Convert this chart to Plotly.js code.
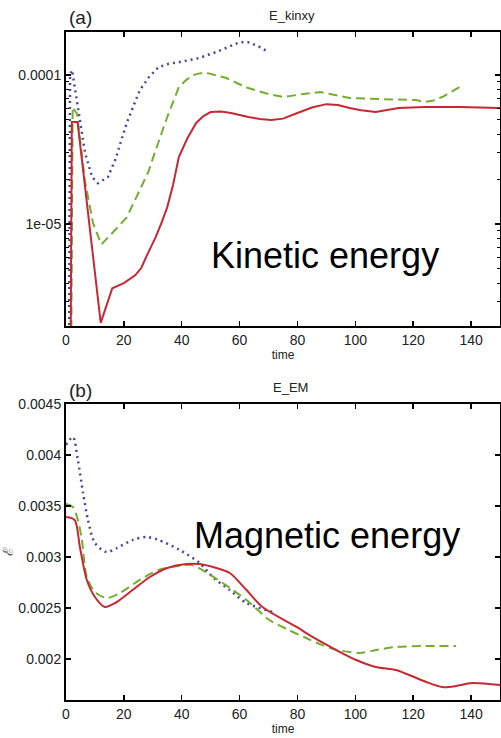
<!DOCTYPE html>
<html>
<head>
<meta charset="utf-8">
<script src="https://cdn.plot.ly/plotly-3.0.1.min.js"></script>
<style>html,body{margin:0;padding:0;background:#fff;}#chart{width:501px;height:738px;}</style>
</head>
<body>
<div id="chart"></div>
<script>
// ---- Panel (a): E_kinxy (log scale) ----
const kinRedT = [0, 2.0, 4.0, 12, 16, 20, 24, 26, 28, 31, 33, 35, 37, 39, 42, 45, 47.5, 50, 53.5, 57, 63, 67, 71, 75, 80, 85, 90, 94, 98, 102, 107, 115, 124, 136, 150];
const kinRedV = [1e-12, 4.84e-5, 4.84e-5, 2.17e-6, 3.71e-6, 4.02e-6, 4.55e-6, 5.07e-6, 6.19e-6, 8.18e-6, 1.02e-5, 1.30e-5, 1.83e-5, 2.82e-5, 3.78e-5, 4.77e-5, 5.31e-5, 5.65e-5, 5.70e-5, 5.56e-5, 5.23e-5, 5.07e-5, 4.99e-5, 5.10e-5, 5.56e-5, 6.05e-5, 6.38e-5, 6.30e-5, 6.01e-5, 5.80e-5, 5.65e-5, 6.01e-5, 6.10e-5, 6.10e-5, 6.01e-5];

const kinGreenT = [0, 2.3, 3.8, 6.5, 9.3, 12.2, 16, 21, 25.5, 28.5, 31, 35, 39, 41.5, 44, 46.5, 49, 52, 55.5, 59, 63, 69, 75, 82, 88, 93, 98, 104, 109, 115, 121, 124, 127, 130, 133, 136];
const kinGreenV = [1e-12, 6.1e-5, 5.5e-5, 1.97e-5, 1.02e-5, 7.3e-6, 8.71e-6, 1.11e-5, 1.69e-5, 2.25e-5, 3.14e-5, 5.23e-5, 8.30e-5, 9.25e-5, 1.0e-4, 1.03e-4, 1.03e-4, 1.0e-4, 9.55e-5, 8.85e-5, 8.18e-5, 7.55e-5, 7.12e-5, 7.46e-5, 7.69e-5, 7.35e-5, 7.02e-5, 6.95e-5, 6.90e-5, 6.85e-5, 6.79e-5, 6.59e-5, 6.75e-5, 7.12e-5, 7.65e-5, 8.30e-5];

const kinBlueT = [0, 1.4, 2.1, 3.1, 4.8, 6.6, 9, 11, 14.5, 17, 21, 25.5, 28.7, 32, 35.5, 39, 46, 52, 56, 60, 63, 66.5, 70];
const kinBlueV = [1e-12, 1.0e-4, 1.08e-4, 8.31e-5, 4.99e-5, 3.0e-5, 2.07e-5, 1.88e-5, 2.07e-5, 2.69e-5, 4.77e-5, 7.92e-5, 9.7e-5, 1.13e-4, 1.19e-4, 1.22e-4, 1.30e-4, 1.43e-4, 1.54e-4, 1.66e-4, 1.66e-4, 1.56e-4, 1.43e-4];

// ---- Panel (b): E_EM ----
const emRedT = [0, 3, 4.8, 7.2, 10, 13.4, 17, 23, 29, 35, 41.7, 46, 52, 56.6, 62.4, 67.9, 79.7, 85.2, 93.4, 100.3, 107, 114, 118.6, 124.5, 130, 134.8, 140.3, 150];
const emRedV = [0.003392, 0.003363, 0.003098, 0.002775, 0.002608, 0.00251, 0.002549, 0.002676, 0.002804, 0.002892, 0.002931, 0.002931, 0.002892, 0.002843, 0.002676, 0.00251, 0.002314, 0.002216, 0.002088, 0.00199, 0.001922, 0.001892, 0.001843, 0.001775, 0.001725, 0.001735, 0.001765, 0.001745];

const emGreenT = [0, 2.4, 4.1, 5.5, 7.2, 10, 14, 18.6, 25.5, 32, 39, 43.4, 50.7, 62.4, 70.3, 77, 83, 87.6, 92.4, 101.4, 107.2, 114, 123, 134.8];
const emGreenV = [0.00352, 0.00349, 0.003363, 0.003167, 0.002804, 0.002657, 0.002598, 0.002647, 0.002775, 0.002873, 0.002912, 0.002922, 0.00281, 0.002578, 0.002382, 0.002284, 0.002206, 0.002147, 0.002098, 0.002059, 0.002088, 0.002118, 0.002127, 0.002127];

const emBlueT = [0, 2.4, 4.1, 5.9, 7.6, 10, 14, 17.6, 23, 27.9, 32, 39.3, 46.2, 50.7, 56.6, 62.4, 71.4];
const emBlueV = [0.0041, 0.004176, 0.003951, 0.003627, 0.003363, 0.003137, 0.003049, 0.003088, 0.003167, 0.003196, 0.003167, 0.003069, 0.002941, 0.002804, 0.002676, 0.002549, 0.002461];

// ---- tick labels ----
const xTicks = [0, 20, 40, 60, 80, 100, 120, 140];
const kinTickVals = [1e-5, 1e-4];
const kinTickText = ['1e-05', '0.0001'];
const emTickVals = [0.002, 0.0025, 0.003, 0.0035, 0.004, 0.0045];
const emTickText = ['0.002', '0.0025', '0.003', '0.0035', '0.004', '0.0045'];

const RED = '#c62834', GREEN = '#74ad30', BLUE = '#454a98';

const kinMinor = [];
for (let e = -6; e <= -4; e++) for (let k = 2; k <= 9; k++) kinMinor.push(k * Math.pow(10, e));

const traces = [
  {x: kinBlueT, y: kinBlueV, xaxis: 'x', yaxis: 'y', mode: 'lines', line: {color: BLUE, width: 2.5, dash: '2px,4px'}},
  {x: kinGreenT, y: kinGreenV, xaxis: 'x', yaxis: 'y', mode: 'lines', line: {color: GREEN, width: 2, dash: '9px,5px'}},
  {x: kinRedT, y: kinRedV, xaxis: 'x', yaxis: 'y', mode: 'lines', line: {color: RED, width: 2}},
  {x: emBlueT, y: emBlueV, xaxis: 'x2', yaxis: 'y2', mode: 'lines', line: {color: BLUE, width: 2.5, dash: '2px,4px', shape: 'spline', smoothing: 0.8}},
  {x: emGreenT, y: emGreenV, xaxis: 'x2', yaxis: 'y2', mode: 'lines', line: {color: GREEN, width: 2, dash: '9px,5px', shape: 'spline', smoothing: 0.8}},
  {x: emRedT, y: emRedV, xaxis: 'x2', yaxis: 'y2', mode: 'lines', line: {color: RED, width: 2, shape: 'spline', smoothing: 0.8}}
];

const axisCommon = {
  showline: true, linecolor: '#000', linewidth: 2, mirror: 'ticks',
  ticks: 'inside', ticklen: 5, tickwidth: 1.5, tickcolor: '#000',
  showgrid: false, zeroline: false,
  tickfont: {size: 14, color: '#222'}
};

const layout = {
  width: 501, height: 738,
  margin: {l: 66, r: 1, t: 32, b: 38},
  paper_bgcolor: '#fff', plot_bgcolor: '#fff',
  font: {family: 'Liberation Sans, Arial, sans-serif', color: '#222'},
  showlegend: false,
  xaxis: Object.assign({}, axisCommon, {
    domain: [0, 1], anchor: 'y', range: [0, 150], tickmode: 'array', tickvals: xTicks,
    title: {text: 'time', font: {size: 12}, standoff: 2}
  }),
  yaxis: Object.assign({}, axisCommon, {
    domain: [0.5599, 1], anchor: 'x', type: 'log', range: [-5.684, -3.711],
    tickmode: 'array', tickvals: kinTickVals, ticktext: kinTickText,
    minor: {tickmode: 'array', tickvals: kinMinor, ticks: 'inside', ticklen: 3, tickcolor: '#000', tickwidth: 1, showgrid: false}
  }),
  xaxis2: Object.assign({}, axisCommon, {
    domain: [0, 1], anchor: 'y2', range: [0, 150], tickmode: 'array', tickvals: xTicks,
    title: {text: 'time', font: {size: 12}, standoff: 2}
  }),
  yaxis2: Object.assign({}, axisCommon, {
    domain: [0, 0.4431], anchor: 'x2', range: [0.001598, 0.0045],
    tickmode: 'array', tickvals: emTickVals, ticktext: emTickText,
    title: {text: 'ℰ', font: {size: 14, color: '#555'}, standoff: 2}
  }),
  annotations: [
    {text: '(a)', xref: 'paper', yref: 'paper', x: 0.0023, y: 1.021, xanchor: 'left', yanchor: 'middle', showarrow: false, font: {size: 19, color: '#222'}},
    {text: 'E_kinxy', xref: 'paper', yref: 'paper', x: 0.5207, y: 1.024, xanchor: 'center', yanchor: 'middle', showarrow: false, font: {size: 13, color: '#222'}},
    {text: 'Kinetic energy', xref: 'paper', yref: 'paper', x: 0.5968, y: 0.6647, xanchor: 'center', yanchor: 'middle', showarrow: false, font: {size: 36, color: '#000'}},
    {text: '(b)', xref: 'paper', yref: 'paper', x: 0.0023, y: 0.4626, xanchor: 'left', yanchor: 'middle', showarrow: false, font: {size: 19, color: '#222'}},
    {text: 'E_EM', xref: 'paper', yref: 'paper', x: 0.5184, y: 0.4671, xanchor: 'center', yanchor: 'middle', showarrow: false, font: {size: 13, color: '#222'}},
    {text: 'Magnetic energy', xref: 'paper', yref: 'paper', x: 0.6014, y: 0.247, xanchor: 'center', yanchor: 'middle', showarrow: false, font: {size: 36, color: '#000'}}
  ]
};

Plotly.newPlot('chart', traces, layout, {staticPlot: true, displayModeBar: false});
</script>
</body>
</html>
